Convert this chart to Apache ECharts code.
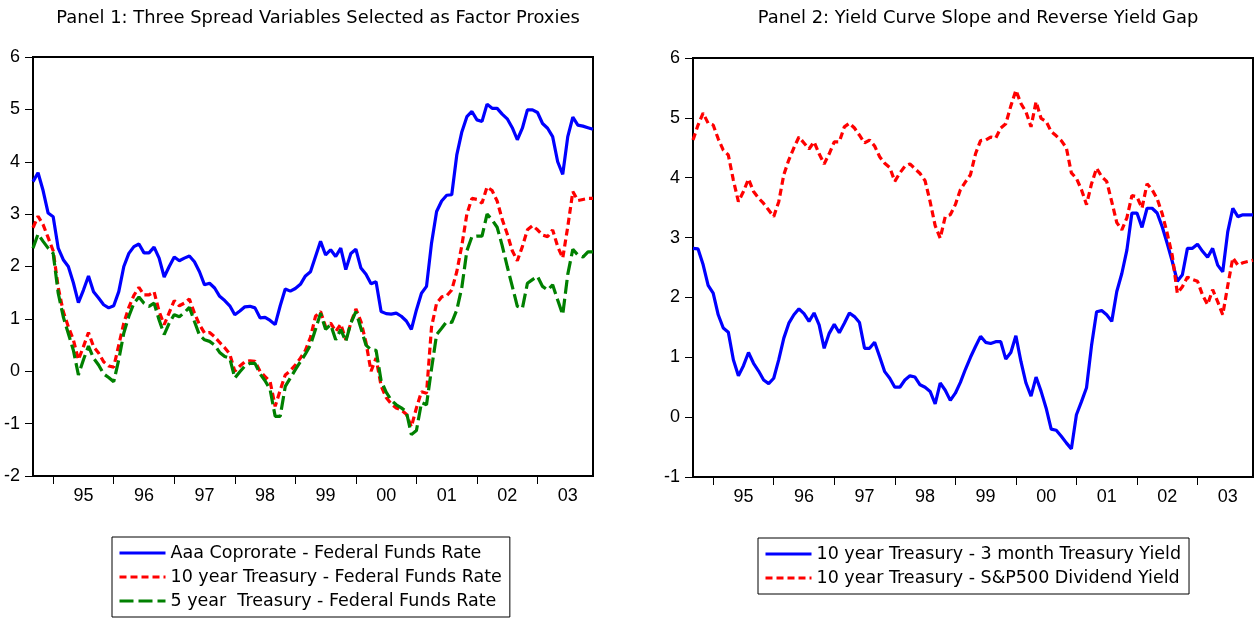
<!DOCTYPE html>
<html>
<head>
<meta charset="utf-8">
<script src="https://cdn.jsdelivr.net/npm/echarts@6/dist/echarts.min.js"></script>
<style>
html,body{margin:0;padding:0;background:#fff;}
#c{width:1254px;height:620px;}
</style>
</head>
<body>
<div id="c"></div>
<script>
// ---- data (monthly, Sep 1994 - Dec 2003) ----
const startYear = 1994, startMonth = 9, monthCount = 112;
const yearLabels = ['95','96','97','98','99','00','01','02','03'];

const aaaFF = [3.62,3.79,3.45,3.02,2.95,2.35,2.13,2.00,1.69,1.31,1.55,1.82,1.52,1.40,1.27,1.21,1.25,1.52,2.00,2.25,
  2.38,2.43,2.26,2.26,2.37,2.16,1.80,2.00,2.18,2.11,2.16,2.20,2.09,1.90,1.65,1.68,1.59,1.43,1.35,1.25,
  1.08,1.15,1.23,1.24,1.21,1.02,1.03,0.97,0.89,1.25,1.57,1.53,1.58,1.66,1.82,1.90,2.19,2.48,2.22,2.32,
  2.19,2.35,1.94,2.25,2.33,1.97,1.85,1.67,1.71,1.14,1.10,1.09,1.11,1.05,0.96,0.80,1.17,1.49,1.62,2.45,
  3.05,3.25,3.36,3.37,4.13,4.57,4.86,4.96,4.80,4.77,5.10,5.02,5.02,4.91,4.82,4.65,4.42,4.64,4.99,4.99,
  4.94,4.73,4.64,4.48,4.00,3.76,4.48,4.85,4.70,4.68,4.65,4.62];
const t10FF = [2.74,2.96,2.80,2.55,2.30,1.60,1.14,0.85,0.60,0.22,0.47,0.74,0.47,0.35,0.18,0.10,0.08,0.50,0.92,1.22,
  1.45,1.60,1.46,1.46,1.52,1.14,0.89,1.12,1.35,1.25,1.30,1.38,1.11,0.89,0.73,0.74,0.66,0.55,0.45,0.33,
  0.00,0.10,0.18,0.20,0.19,0.00,-0.10,-0.20,-0.67,-0.36,-0.07,0.01,0.12,0.25,0.40,0.65,1.05,1.14,0.85,0.92,
  0.76,0.90,0.60,0.92,1.19,0.95,0.55,0.00,0.25,-0.28,-0.50,-0.62,-0.70,-0.74,-0.82,-1.06,-0.70,-0.39,-0.42,0.85,
  1.30,1.42,1.44,1.55,1.90,2.40,3.00,3.30,3.28,3.21,3.52,3.45,3.25,2.90,2.62,2.30,2.11,2.38,2.70,2.78,
  2.70,2.60,2.57,2.70,2.38,2.16,2.76,3.43,3.26,3.28,3.30,3.30];
const t5FF = [2.35,2.62,2.48,2.35,2.25,1.49,1.04,0.72,0.40,-0.07,0.22,0.48,0.25,0.12,-0.05,-0.12,-0.20,0.22,0.73,1.05,
  1.30,1.42,1.30,1.24,1.30,0.98,0.70,0.92,1.08,1.04,1.12,1.22,0.95,0.69,0.60,0.57,0.50,0.36,0.28,0.25,
  -0.13,-0.01,0.10,0.15,0.15,-0.05,-0.18,-0.35,-0.86,-0.86,-0.29,-0.13,0.03,0.18,0.33,0.50,0.80,1.11,0.80,0.89,
  0.60,0.80,0.57,0.92,1.14,0.82,0.50,0.41,0.40,-0.18,-0.40,-0.55,-0.64,-0.70,-0.77,-1.21,-1.13,-0.60,-0.64,0.05,
  0.70,0.82,0.95,0.93,1.17,1.60,2.30,2.57,2.58,2.58,3.00,2.89,2.75,2.40,2.00,1.62,1.24,1.20,1.68,1.75,
  1.81,1.62,1.55,1.65,1.36,1.08,1.85,2.33,2.22,2.18,2.28,2.28];
const t10T3m = [2.82,2.81,2.55,2.20,2.07,1.71,1.49,1.42,0.96,0.69,0.86,1.08,0.90,0.77,0.62,0.56,0.65,0.96,1.32,1.57,
  1.71,1.81,1.73,1.60,1.74,1.54,1.15,1.40,1.55,1.41,1.57,1.74,1.68,1.58,1.15,1.15,1.25,1.01,0.76,0.65,
  0.50,0.50,0.62,0.69,0.67,0.54,0.50,0.43,0.22,0.57,0.45,0.28,0.40,0.58,0.80,1.00,1.18,1.35,1.25,1.23,
  1.26,1.26,0.97,1.08,1.36,0.93,0.57,0.35,0.67,0.43,0.15,-0.20,-0.22,-0.32,-0.43,-0.53,0.04,0.26,0.49,1.20,
  1.76,1.78,1.71,1.60,2.10,2.40,2.79,3.41,3.41,3.17,3.49,3.49,3.41,3.18,2.90,2.60,2.27,2.38,2.82,2.82,
  2.89,2.77,2.67,2.82,2.54,2.43,3.10,3.49,3.35,3.38,3.38,3.38];
const t10Div = [4.63,4.88,5.08,4.91,4.88,4.65,4.46,4.38,3.96,3.60,3.77,3.98,3.77,3.66,3.57,3.46,3.35,3.60,4.05,4.30,
  4.50,4.68,4.58,4.48,4.60,4.40,4.23,4.40,4.60,4.60,4.85,4.91,4.83,4.71,4.58,4.63,4.53,4.35,4.24,4.17,
  3.94,4.08,4.19,4.23,4.15,4.07,3.95,3.60,3.20,2.99,3.35,3.38,3.55,3.80,3.93,4.05,4.40,4.62,4.63,4.68,
  4.66,4.83,4.90,5.20,5.46,5.24,5.10,4.85,5.27,4.99,4.94,4.77,4.70,4.62,4.50,4.08,3.99,3.80,3.55,3.90,
  4.16,4.02,3.94,3.60,3.25,3.13,3.33,3.70,3.68,3.49,3.90,3.80,3.65,3.40,3.07,2.70,2.07,2.18,2.34,2.30,
  2.27,2.04,1.88,2.13,1.93,1.71,2.20,2.66,2.54,2.58,2.60,2.62];

const names = {
  aaa: 'Aaa Coprorate - Federal Funds Rate',
  t10: '10 year Treasury - Federal Funds Rate',
  t5: '5 year  Treasury - Federal Funds Rate',
  slope: '10 year Treasury - 3 month Treasury Yield',
  gap: '10 year Treasury - S&P500 Dividend Yield'
};
const titles = ['Panel 1: Three Spread Variables Selected as Factor Proxies',
                'Panel 2: Yield Curve Slope and Reverse Yield Gap'];

// month categories
const months = [];
for (let i = 0; i < monthCount; i++) {
  const m0 = startMonth - 1 + i;
  const y = startYear + Math.floor(m0 / 12);
  const m = (m0 % 12) + 1;
  months.push(y + '-' + (m < 10 ? '0' + m : '' + m));
}

const FONT = 'Liberation Sans, Arial, sans-serif';
const WFONT = 'DejaVu Sans, sans-serif';
const BLUE = '#0000ff', RED = '#ff0000', GREEN = '#008000';

function xAxis(gridIndex) {
  return {
    type: 'category', gridIndex: gridIndex, data: months, boundaryGap: false,
    axisLine: { onZero: false, lineStyle: { color: '#000', width: 2 } },
    axisTick: { show: true, length: 8, lineStyle: { color: '#000', width: 1 },
      interval: function (idx, val) { return val.slice(5) === '01'; } },
    axisLabel: { color: '#000', fontSize: 18, fontFamily: FONT, margin: 11,
      interval: function (idx, val) { return val.slice(5) === '07'; },
      formatter: function (val) { const k = yearLabels.indexOf(val.slice(2, 4)); return k >= 0 ? yearLabels[k] : ''; } },
    splitLine: { show: false }
  };
}
function yAxis(gridIndex, min, max) {
  return {
    type: 'value', gridIndex: gridIndex, min: min, max: max, interval: 1,
    axisLine: { show: true, onZero: false, lineStyle: { color: '#000', width: 2 } },
    axisTick: { show: true, length: 8, lineStyle: { color: '#000', width: 1 } },
    axisLabel: { color: '#000', fontSize: 18, fontFamily: FONT, margin: 13 },
    splitLine: { show: false }
  };
}
function line(name, data, color, dash, xi) {
  return {
    name: name, type: 'line', data: data, xAxisIndex: xi, yAxisIndex: xi,
    symbol: 'none', smooth: false, animation: false,
    lineStyle: { color: color, width: 3.2, type: dash, cap: 'butt' },
    itemStyle: { color: color }
  };
}
function legend(left, top, data) {
  return {
    orient: 'vertical', left: left, top: top, data: data,
    borderColor: '#000', borderWidth: 1, padding: [7, 8, 7, 6], itemGap: 6,
    itemWidth: 46, itemHeight: 17, selectedMode: false,
    itemStyle: { opacity: 0 },
    lineStyle: { width: 3 },
    textStyle: { fontSize: 17.5, lineHeight: 18, color: '#000', fontFamily: WFONT }
  };
}

const chart = echarts.init(document.getElementById('c'), null, { renderer: 'canvas' });
chart.setOption({
  animation: false,
  backgroundColor: '#fff',
  title: [
    { text: titles[0], left: 313, top: 4, textAlign: 'center',
      textStyle: { fontSize: 17.9, fontWeight: 'normal', color: '#000', fontFamily: WFONT } },
    { text: titles[1], left: 973, top: 4, textAlign: 'center',
      textStyle: { fontSize: 17.9, fontWeight: 'normal', color: '#000', fontFamily: WFONT } }
  ],
  grid: [
    { left: 33, top: 57, width: 560, height: 419, show: true, borderColor: '#000', borderWidth: 2, containLabel: false },
    { left: 693, top: 58, width: 560, height: 419, show: true, borderColor: '#000', borderWidth: 2, containLabel: false }
  ],
  xAxis: [xAxis(0), xAxis(1)],
  yAxis: [yAxis(0, -2, 6), yAxis(1, -1, 6)],
  legend: [
    legend(112, 537, [names.aaa, names.t10, names.t5]),
    legend(758, 538, [names.slope, names.gap])
  ],
  series: [
    line(names.aaa, aaaFF, BLUE, 'solid', 0),
    line(names.t10, t10FF, RED, [7, 4], 0),
    line(names.t5, t5FF, GREEN, [14, 5], 0),
    line(names.slope, t10T3m, BLUE, 'solid', 1),
    line(names.gap, t10Div, RED, [7, 4], 1)
  ]
});
</script>
</body>
</html>
